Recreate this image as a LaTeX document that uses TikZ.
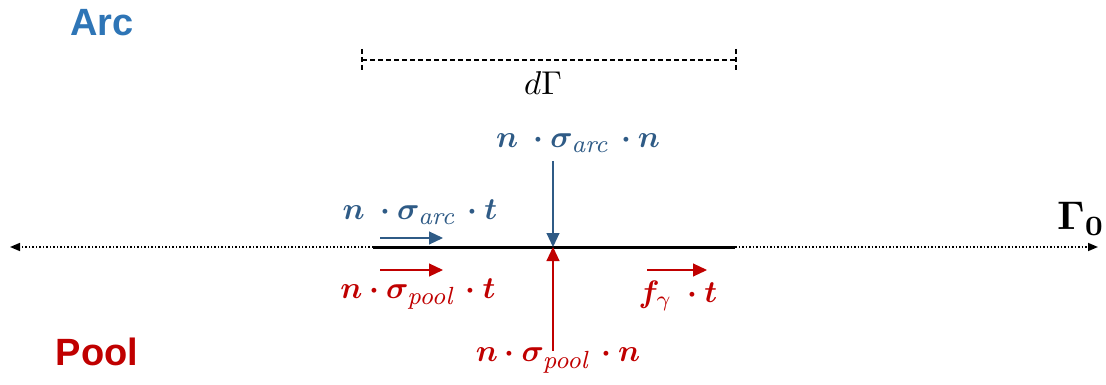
\documentclass[tikz,border=0pt]{standalone}
\usepackage{amsmath,bm,graphicx}
\usepackage{fontspec}
\newfontfamily\labelsans{Liberation Sans}
\definecolor{arcblue}{HTML}{2E75B6}
\definecolor{eqblue}{HTML}{2F5B86}
\definecolor{poolred}{HTML}{C00000}
\newcommand{\bigmath}[2][3.1]{\scalebox{#1}{$#2$}}
\newcommand{\lowidx}[1]{_{\text{\fontsize{8}{9}\selectfont\itshape #1}}}
\usetikzlibrary{arrows.meta}

\begin{document}
\begin{tikzpicture}[x=1pt,y=-1pt,
  lbl/.style={font=\labelsans\bfseries\fontsize{38}{40}\selectfont,inner sep=0pt},
  eq/.style={inner sep=2pt},
  force/.style={-{Triangle[length=14pt,width=13pt]},line width=1.1pt},
  dotline/.style={-{Triangle[length=10pt,width=8pt]},line width=1.5pt,dotted},
  dimline/.style={line width=1.1pt,dash pattern=on 5pt off 3pt}]
  \useasboundingbox (0,0) rectangle (1106,385);
  % phase labels
  \node[lbl,text=arcblue] (arc) at (102,23) {Arc};
  \node[lbl,text=poolred] (pool) at (97,352) {Pool};
  % interface Gamma_0 and element dGamma
  \coordinate (gL) at (10,247);
  \coordinate (gR) at (1098,247);
  \coordinate (sA) at (373,247);
  \coordinate (sB) at (735,247);
  \coordinate (mid) at (553,247);
  \draw[dotline] (sA) -- (gL);
  \draw[dotline] (sB) -- (gR);
  \draw[line width=3pt] (sA) -- (sB);
  \node (g0) at (1081,219) {\bigmath[4]{\bm{\Gamma_0}}};
  \coordinate (dA) at (362,60);
  \coordinate (dB) at (736,60);
  \draw[dimline] (dA) -- (dB);
  \draw[dimline] ([yshift=11pt]dA) -- ([yshift=-11pt]dA);
  \draw[dimline] ([yshift=11pt]dB) -- ([yshift=-11pt]dB);
  \node (dgam) at (543,83) {\bigmath[3.3]{d\Gamma}};
  % stresses on the arc side
  \node[eq,text=eqblue] (snn) at (578,143)
    {\bigmath{\bm{n}\;\bm{\cdot}\bm{\sigma}\lowidx{arc}\,\bm{\cdot}\bm{n}}};
  \node[eq,text=eqblue] (snt) at (420,212)
    {\bigmath{\bm{n}\;\bm{\cdot}\bm{\sigma}\lowidx{arc}\,\bm{\cdot}\bm{t}}};
  \draw[force,eqblue] (snn.south -| mid) ++(0,-6pt) -- (mid);
  \coordinate (at1) at (380,238);
  \coordinate (at2) at (443,238);
  \draw[force,eqblue] (at1) -- (at2);
  % stresses on the pool side
  \node[eq,text=poolred] (spt) at (418,294)
    {\bigmath{\bm{n}\bm{\cdot}\bm{\sigma}\lowidx{pool}\,\bm{\cdot}\bm{t}}};
  \node[eq,text=poolred] (fgt) at (678,296)
    {\bigmath{\bm{f}_{\gamma}\;\bm{\cdot}\bm{t}}};
  \node[eq,text=poolred] (spn) at (558,360)
    {\bigmath{\bm{n}\bm{\cdot}\bm{\sigma}\lowidx{pool}\,\bm{\cdot}\bm{n}}};
  \draw[force,poolred] (spn.north -| mid) ++(0,-6pt) -- (mid);
  \coordinate (pt1) at (380,270);
  \coordinate (pt2) at (443,270);
  \draw[force,poolred] (pt1) -- (pt2);
  \coordinate (ft1) at (647,270);
  \coordinate (ft2) at (707,270);
  \draw[force,poolred] (ft1) -- (ft2);
\end{tikzpicture}
\end{document}
